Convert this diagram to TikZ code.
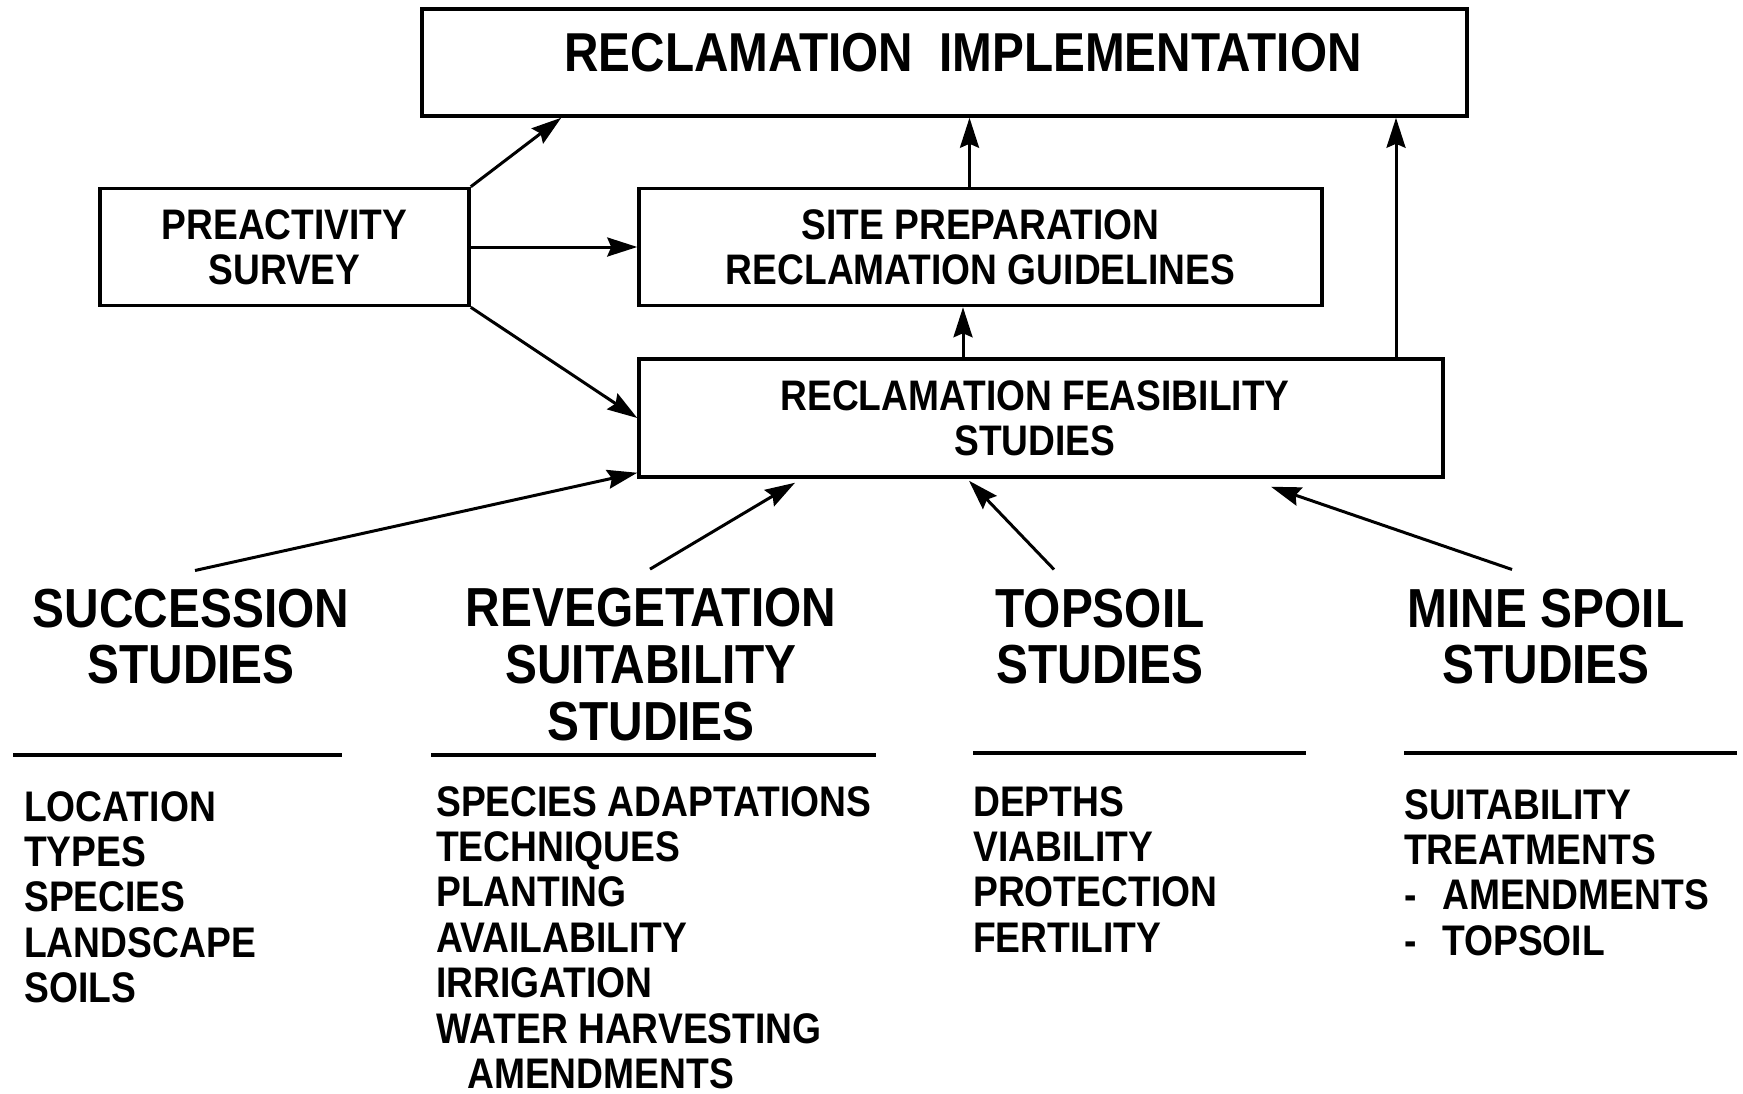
\documentclass[tikz,border=0pt]{standalone}
\usepackage{fontspec}
\setmainfont{Liberation Sans}[FakeStretch=0.87]
\usetikzlibrary{arrows.meta,calc}
\begin{document}
\begin{tikzpicture}[x=1pt,y=-1pt,
  box/.style={draw,line width=3.5pt,inner sep=0pt,align=center},
  boxtext/.style={font=\fontsize{42.7}{45}\selectfont\bfseries},
  head/.style={font=\fontsize{55}{56.7}\selectfont\bfseries,align=center,inner sep=0pt},
  lst/.style={font=\fontsize{42.8}{45.4}\selectfont\bfseries,align=left,inner sep=0pt,anchor=north west},
  arr/.style={line width=3pt,-{Stealth[length=30pt,width=19pt,inset=4pt]}},
  rulel/.style={line width=3.5pt}]
\useasboundingbox (0,0) rectangle (1743,1093);
% boxes
\node[box,minimum width=1045pt,minimum height=107pt] (impl) at (944.5,62.5) {};
\node[font=\fontsize{54.8}{56}\selectfont\bfseries,inner sep=0pt] (implt) at (963,53) {RECLAMATION\ \ IMPLEMENTATION};
\node[box,boxtext,minimum width=369pt,minimum height=117pt] (pa) at (284.5,247) {PREACTIVITY\\SURVEY};
\node[box,boxtext,minimum width=683pt,minimum height=117pt] (site) at (980.5,247) {SITE PREPARATION\\RECLAMATION GUIDELINES};
\node[box,boxtext,minimum width=804pt,minimum height=118pt] (feas) at (1041,418) {RECLAMATION FEASIBILITY\hspace*{12pt}\\STUDIES\hspace*{12pt}};
% headings
\node[head] (succ) at (191,636.5) {SUCCESSION\\STUDIES};
\node[head] (reveg) at (651,664.5) {REVEGETATION\\SUITABILITY\\STUDIES};
\node[head] (tops) at (1100,636.5) {TOPSOIL\\STUDIES};
\node[head] (mine) at (1546,636.5) {MINE SPOIL\\STUDIES};
% rules
\draw[rulel] (13,755) -- (342,755);
\draw[rulel] (431,755) -- (876,755);
\draw[rulel] (973,753) -- (1306,753);
\draw[rulel] (1404,753) -- (1737,753);
% lists
\node[lst] (l1) at (24,791) {LOCATION\\TYPES\\SPECIES\\LANDSCAPE\\SOILS};
\node[lst] (l2) at (436,786) {SPECIES ADAPTATIONS\\TECHNIQUES\\PLANTING\\AVAILABILITY\\IRRIGATION\\WATER HARVESTING\\\hspace*{31pt}AMENDMENTS};
\node[lst] (l3) at (973,786) {DEPTHS\\VIABILITY\\PROTECTION\\FERTILITY};
\node[lst] (l4) at (1404,789) {SUITABILITY\\TREATMENTS\\\makebox[38pt][l]{-}AMENDMENTS\\\makebox[38pt][l]{-}TOPSOIL};
% arrows
\coordinate (a1) at ($(impl.south west)+(141,0)$);
\draw[arr] (pa.north east) -- (a1);
\draw[arr] (pa.east) -- (site.west);
\draw[arr] (pa.south east) -- (feas.west);
\coordinate (a4) at ($(site.north)+(-11,0)$);
\draw[arr] (a4) -- (a4 |- impl.south);
\coordinate (a5) at ($(feas.north)+(-78,0)$);
\draw[arr] (a5) -- (a5 |- site.south);
\coordinate (a6) at ($(feas.north)+(355,0)$);
\draw[arr] (a6) -- (a6 |- impl.south);
\coordinate (s7) at ($(succ.north)+(4,-18)$);
\coordinate (e7) at ($(feas.south west)+(0,-6)$);
\draw[arr] (s7) -- (e7);
\coordinate (s8) at ($(reveg.north)+(-1,-19)$);
\coordinate (e8) at ($(feas.south)+(-246,4)$);
\draw[arr] (s8) -- (e8);
\coordinate (s9) at ($(tops.north)+(-46,-19)$);
\coordinate (e9) at ($(feas.south)+(-72,2)$);
\draw[arr] (s9) -- (e9);
\coordinate (s10) at ($(mine.north)+(-34,-19)$);
\coordinate (e10) at ($(feas.south)+(230,8)$);
\draw[arr] (s10) -- (e10);
\end{tikzpicture}
\end{document}
